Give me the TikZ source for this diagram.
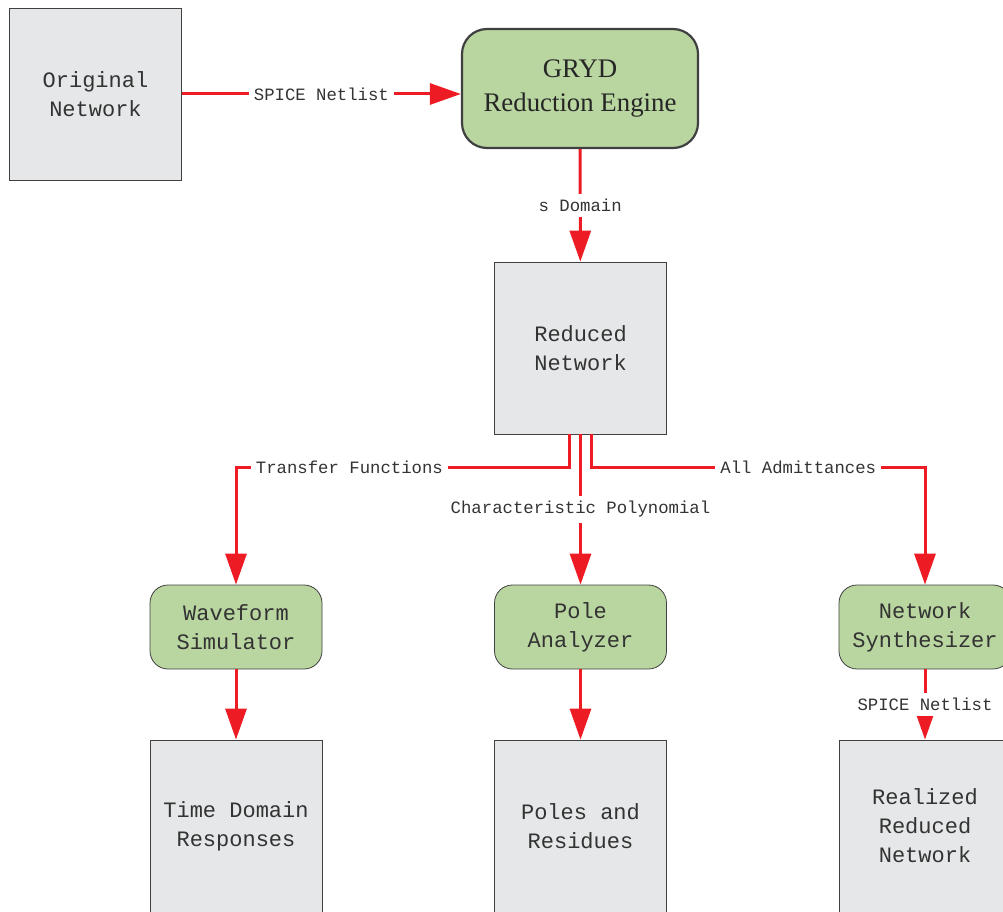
\documentclass[tikz,border=0pt]{standalone}
\usepackage{fontspec}
\setmainfont{Liberation Serif}
\setmonofont{Liberation Mono}
\usepackage{tikz}
\usetikzlibrary{shapes,backgrounds,positioning,arrows.meta}
\usepackage{xcolor}

\definecolor{boxgray}{RGB}{230,231,232}
\definecolor{boxgreen}{RGB}{185,213,160}
\definecolor{flowred}{RGB}{237,28,36}
\definecolor{edgegray}{RGB}{64,64,64}
\definecolor{txtgray}{RGB}{51,51,51}

\tikzset{
  netbox/.style={draw=edgegray, line width=0.8pt, fill=boxgray, minimum width=172pt, minimum height=172pt,
    align=center, text=txtgray, font=\fontsize{22}{29}\selectfont\ttfamily},
  toolbox/.style={draw=edgegray, line width=0.8pt, fill=boxgreen, rounded corners=18pt, minimum width=172pt,
    minimum height=84pt, align=center, text=txtgray, font=\fontsize{22}{29}\selectfont\ttfamily},
  enginebox/.style={draw=edgegray, line width=2.2pt, fill=boxgreen, rounded corners=25pt, minimum width=236pt,
    minimum height=119pt, align=center, text=black!85, font=\fontsize{26.8}{34}\selectfont},
  flow/.style={draw=flowred, line width=3pt, -{Triangle[length=31pt,width=21pt]}},
  lbl/.style={fill=white, inner sep=5pt, text=txtgray, font=\fontsize{17.3}{20}\selectfont\ttfamily}
}

\begin{document}
\begin{tikzpicture}[x=1pt, y=-1pt]
                \useasboundingbox (0,0) rectangle (1003,912);

                \node[netbox]    (original) at (95.5, 94)   {Original\\Network};
                \node[enginebox] (gryd)     at (580, 88.5)  {GRYD\\Reduction Engine};
                \node[netbox]    (reduced)  at (580.5, 348) {Reduced\\Network};

                \node[toolbox] (wave)  at (236, 627)   {Waveform\\Simulator};
                \node[toolbox] (pole)  at (580.5, 627) {Pole\\Analyzer};
                \node[toolbox] (synth) at (925, 627)   {Network\\Synthesizer};

                \node[netbox] (timeresp) at (236, 826)   {Time Domain\\Responses};
                \node[netbox] (residues) at (580.5, 826) {Poles and\\Residues};
                \node[netbox] (realized) at (925, 826)   {Realized\\Reduced\\Network};

                \coordinate (tfcorner)  at (236, 467);
                \coordinate (admcorner) at (925, 467);

                \draw[flow] (original.east) -- node[lbl] {SPICE Netlist} (original.east -| gryd.west);
                \draw[flow] (gryd) -- node[lbl] {s Domain} (reduced);

                \draw[flow] ([xshift=-11pt]reduced.south) |- node[lbl, pos=0.83] {Transfer Functions} (tfcorner) -- (wave);
                \draw[flow] (reduced) -- node[lbl] {Characteristic Polynomial} (pole);
                \draw[flow] ([xshift=11pt]reduced.south) |- node[lbl, pos=0.81] {All Admittances} (admcorner) -- (synth);

                \draw[flow] (wave) -- (timeresp);
                \draw[flow] (pole) -- (residues);
                \draw[flow] (synth) -- node[lbl] {SPICE Netlist} (realized);
            \end{tikzpicture}
\end{document}
